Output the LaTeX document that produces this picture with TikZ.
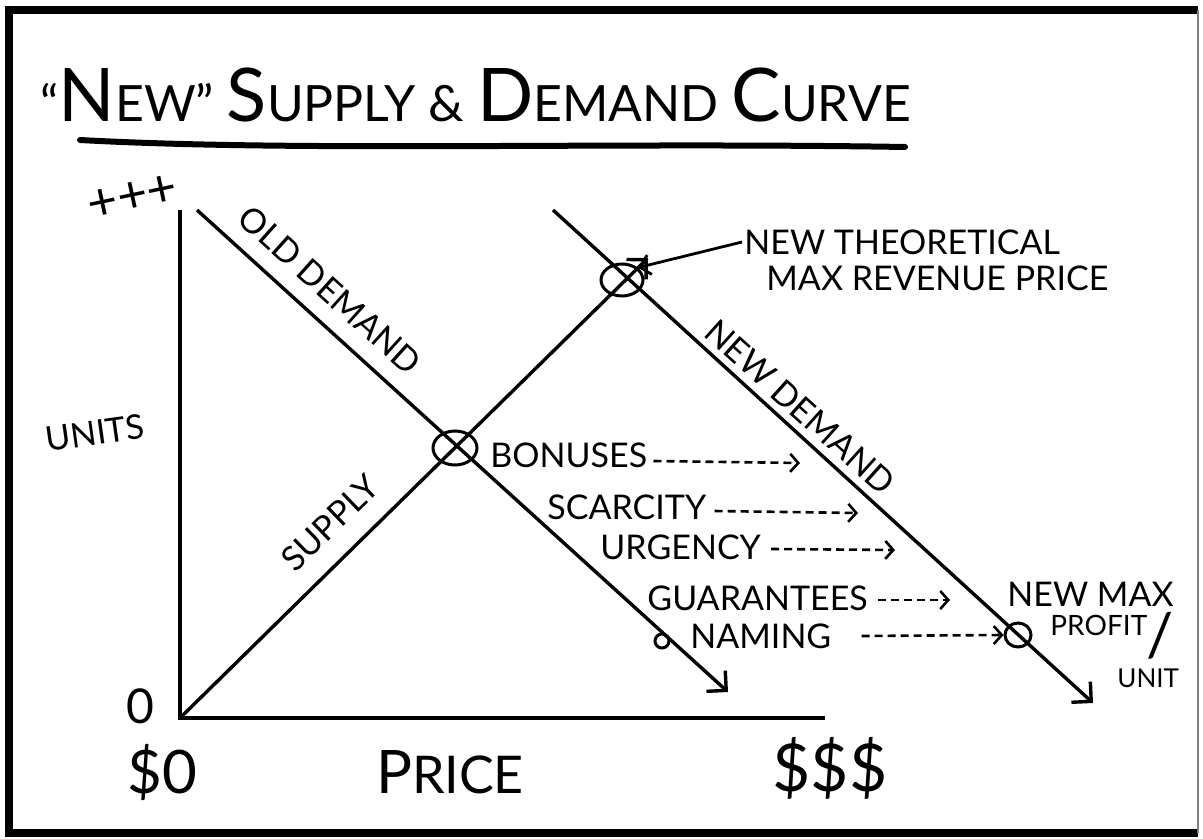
\documentclass[tikz,border=0pt]{standalone}
\usepackage{fontspec}
\setmainfont{Lato}
\usetikzlibrary{arrows.meta,shapes.geometric}

\newcommand\bigini[1]{{\fontsize{37}{39}\selectfont #1}}
\newcommand\midini[1]{{\fontsize{30}{32}\selectfont #1}}

\begin{document}
\begin{tikzpicture}[
  x=0.5pt,y=-0.5pt,
  curve/.style={draw=black,line width=1.7pt},
  tip/.style={-{Straight Barb[length=7pt,width=14pt,line width=1.7pt]}},
  push/.style={draw=black,line width=1.3pt,dash pattern=on 4pt off 2.5pt,
               -{Straight Barb[length=4pt,width=9pt,line width=1.3pt]}},
  pointer/.style={draw=black,line width=1.4pt,
                  -{Straight Barb[length=5pt,width=10pt,line width=1.4pt]}},
  ring/.style={ellipse,draw=black,line width=1.5pt,inner sep=0pt},
  hand/.style={font=\fontsize{17}{19}\selectfont,inner sep=1pt,text=black},
  big/.style={font=\fontsize{24}{26}\selectfont,inner sep=1pt,text=black}
]
\useasboundingbox (0,0) rectangle (1203,839);

% Frame.
\fill[white] (0,0) rectangle (1203,839);
\draw[line width=4pt] (1198,10) -- (9,10) -- (9,833) -- (1198,833);
\draw[line width=1pt,gray] (1198,10) -- (1198,833);

% Title.
\node[anchor=base west,inner sep=0pt,font=\fontsize{25}{27}\selectfont] (title) at (40,122)
  {``\bigini{N}EW'' \bigini{S}UPPLY \& \bigini{D}EMAND \bigini{C}URVE};
\draw[line width=3pt,line cap=round] (80,140) .. controls (300,152) and (600,142) .. (905,147);

% -------------------------------------------------------------------------
% Axes.
\coordinate (o) at (180,718);
\coordinate (ytop) at (180,210);
\coordinate (xend) at (825,718);
\draw[curve] (ytop) -- (o) -- (xend);

\node[hand,rotate=12,font=\fontsize{26}{28}\selectfont] (plus) at (133,198) {+++};
\node[hand,rotate=8] (units) at (95,433) {UNITS};
\node[big] (zero) at (140,706) {0};
\node[big,font=\fontsize{30}{32}\selectfont] (dzero) at (162,772) {\$0};
\node[big,font=\fontsize{26}{28}\selectfont] (price) at (450,772) {\midini{P}RICE};
\node[big,font=\fontsize{33}{35}\selectfont] (dmax) at (830,768) {\$\$\$};

% Curves.
\coordinate (od1) at (197,210);
\coordinate (od2) at (728,692);
\coordinate (nd1) at (553,210);
\coordinate (nd2) at (1093,703);
\coordinate (s2) at (648,258);
\draw[curve,tip] (od1) -- (od2);
\draw[curve,tip] (nd1) -- (nd2);
\draw[curve,tip] (o) -- (s2);

\node[ring,minimum width=22pt,minimum height=17pt] (eqold) at (455,448) {};
\node[ring,minimum width=21pt,minimum height=16pt] (eqnew) at (622,280) {};
\node[ring,minimum width=13pt,minimum height=12pt] (maxp) at (1018,635) {};
\node[ring,minimum width=7pt,minimum height=7pt] (nmdot) at (662,641) {};

\node[hand,rotate=-42] (oldlab) at (330,290) {OLD DEMAND};
\node[hand,rotate=-42] (newlab) at (800,407) {NEW DEMAND};
\node[hand,rotate=44] (suplab) at (330,523) {SUPPLY};

% Pointer to the new crossing.
\node[hand,anchor=west] (theo) at (742,242) {NEW THEORETICAL};
\node[hand,anchor=west] (maxrev) at (764,278) {MAX REVENUE PRICE};
\draw[pointer] (theo.west) -- (eqnew.north east);

% Demand shifters.
\node[hand,anchor=west] (bonus) at (488,455) {BONUSES};
\node[hand,anchor=west] (scarce) at (545,507) {SCARCITY};
\node[hand,anchor=west] (urgent) at (598,547) {URGENCY};
\node[hand,anchor=west] (guar) at (645,598) {GUARANTEES};
\node[hand,anchor=west] (naming) at (688,636) {NAMING};
\coordinate (bonusend) at (800,463);
\coordinate (scarceend) at (858,513);
\coordinate (urgentend) at (895,550);
\coordinate (guarend) at (950,600);
\draw[push] (bonus.east) ++(4,6) -- (bonusend);
\draw[push] (scarce.east) ++(6,4) -- (scarceend);
\draw[push] (urgent.east) ++(8,2) -- (urgentend);
\draw[push] (guar.east) ++(8,2) -- (guarend);
\draw[push] ([xshift=14pt]naming.east) -- (maxp.west);

% New max profit.
\node[hand,anchor=west] (newmax) at (1005,594) {NEW MAX};
\node[hand,anchor=west,font=\fontsize{14}{16}\selectfont] (profit) at (1048,625) {PROFIT};
\node[hand,font=\fontsize{30}{32}\selectfont] (slash) at (1160,636) {/};
\node[hand,anchor=west,font=\fontsize{13}{15}\selectfont] (unit) at (1115,678) {UNIT};

\end{tikzpicture}
\end{document}
